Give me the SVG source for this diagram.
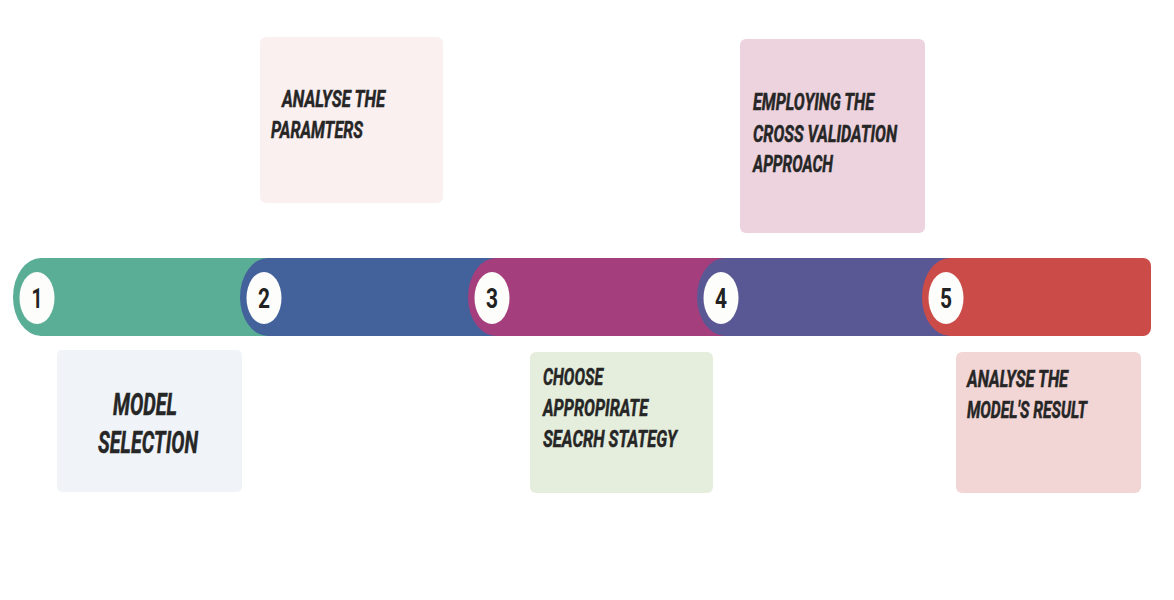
<svg xmlns="http://www.w3.org/2000/svg" width="1174" height="600" viewBox="0 0 1174 600">
<style>
.t{font-family:Roboto,"Liberation Sans",sans-serif;font-weight:bold;font-style:italic;fill:#262626;stroke:#262626;stroke-width:0.5;}
.s{font-size:23px;}
.b{font-size:31px;}
.n{font-family:Roboto,"Liberation Sans",sans-serif;font-weight:bold;font-size:27px;fill:#222;text-anchor:middle;}
.dot{fill:#fdfdfb;}
</style>
<rect width="1174" height="600" fill="#ffffff"/>
<g id="bar">
<path d="M41 258 H940 V336 H41 A28 39 0 0 1 41 258 Z" fill="#5bae96"/>
<path d="M268 258 H940 V336 H268 A28 39 0 0 1 268 258 Z" fill="#43619b"/>
<path d="M496 258 H940 V336 H496 A28 39 0 0 1 496 258 Z" fill="#a53e7d"/>
<path d="M725 258 H960 V336 H725 A28 39 0 0 1 725 258 Z" fill="#5a5894"/>
<path d="M950 258 H1143 A8 8 0 0 1 1151 266 V328 A8 8 0 0 1 1143 336 H950 A28 39 0 0 1 950 258 Z" fill="#cb4b48"/>
</g>
<g id="n1"><ellipse class="dot" cx="37" cy="298" rx="17.5" ry="26"/><text class="n" x="37" y="308" textLength="11" lengthAdjust="spacingAndGlyphs">1</text></g>
<g id="n2"><ellipse class="dot" cx="264" cy="298" rx="17.5" ry="26"/><text class="n" x="264" y="308" textLength="12" lengthAdjust="spacingAndGlyphs">2</text></g>
<g id="n3"><ellipse class="dot" cx="492" cy="298" rx="17.5" ry="26"/><text class="n" x="492" y="308" textLength="12" lengthAdjust="spacingAndGlyphs">3</text></g>
<g id="n4"><ellipse class="dot" cx="721" cy="298" rx="17.5" ry="26"/><text class="n" x="721" y="308" textLength="12" lengthAdjust="spacingAndGlyphs">4</text></g>
<g id="n5"><ellipse class="dot" cx="946" cy="298" rx="17.5" ry="26"/><text class="n" x="946" y="308" textLength="12" lengthAdjust="spacingAndGlyphs">5</text></g>
<g id="box1">
<rect x="57" y="350" width="185" height="142" rx="5" fill="#f0f4f8"/>
<text class="t b" x="113" y="415" textLength="64" lengthAdjust="spacingAndGlyphs">MODEL</text>
<text class="t b" x="98" y="453" textLength="100" lengthAdjust="spacingAndGlyphs">SELECTION</text>
</g>
<g id="box2">
<rect x="260" y="37" width="183" height="166" rx="6" fill="#fbf0f0"/>
<text class="t s" x="282" y="107" textLength="103" lengthAdjust="spacingAndGlyphs">ANALYSE THE</text>
<text class="t s" x="271" y="138" textLength="92" lengthAdjust="spacingAndGlyphs">PARAMTERS</text>
</g>
<g id="box3">
<rect x="530" y="352" width="183" height="141" rx="6" fill="#e5eedc"/>
<text class="t s" x="543" y="385" textLength="60" lengthAdjust="spacingAndGlyphs">CHOOSE</text>
<text class="t s" x="543" y="416" textLength="105" lengthAdjust="spacingAndGlyphs">APPROPIRATE</text>
<text class="t s" x="543" y="447" textLength="134" lengthAdjust="spacingAndGlyphs">SEACRH STATEGY</text>
</g>
<g id="box4">
<rect x="740" y="39" width="185" height="194" rx="6" fill="#edd3dd"/>
<text class="t s" x="753" y="110" textLength="121" lengthAdjust="spacingAndGlyphs">EMPLOYING THE</text>
<text class="t s" x="753" y="142" textLength="144" lengthAdjust="spacingAndGlyphs">CROSS VALIDATION</text>
<text class="t s" x="753" y="172" textLength="80" lengthAdjust="spacingAndGlyphs">APPROACH</text>
</g>
<g id="box5">
<rect x="956" y="352" width="185" height="141" rx="6" fill="#f2d5d5"/>
<text class="t s" x="967" y="387" textLength="101" lengthAdjust="spacingAndGlyphs">ANALYSE THE</text>
<text class="t s" x="967" y="418" textLength="120" lengthAdjust="spacingAndGlyphs">MODEL'S RESULT</text>
</g>
</svg>
